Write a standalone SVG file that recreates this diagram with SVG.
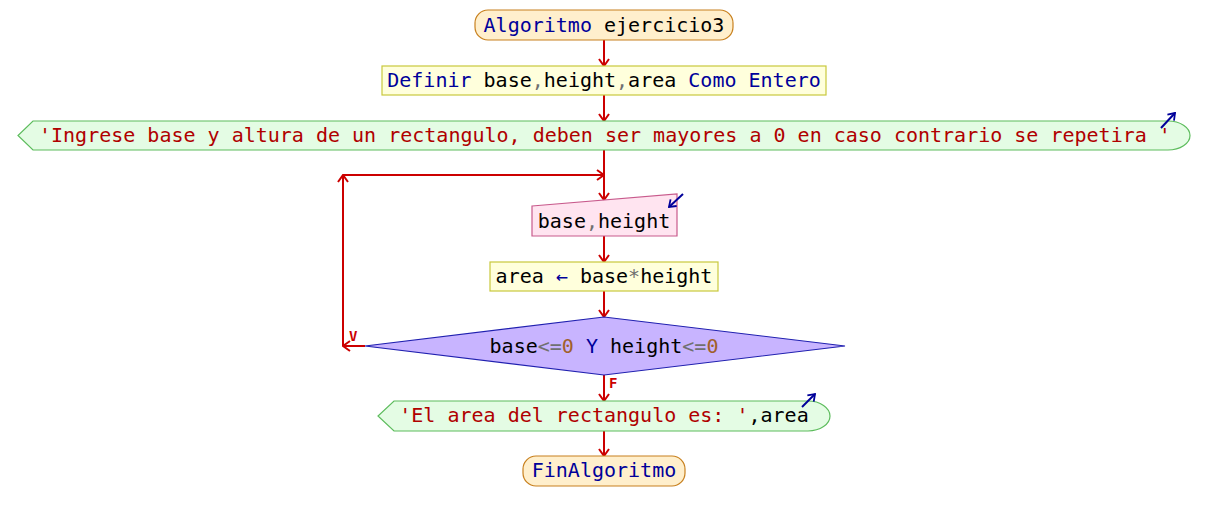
<svg xmlns="http://www.w3.org/2000/svg" width="1208" height="521" viewBox="0 0 1208 521">
<style>
text{font-family:"DejaVu Sans Mono","Liberation Mono",monospace;font-size:20px;fill:#000}
.kw{fill:#00009a}
.st{fill:#b00000}
.op{fill:#707070}
.nu{fill:#a0602a}
.term{fill:#ffefcc;stroke:#c8801e;stroke-width:1.2}
.proc{fill:#ffffdc;stroke:#c8c83c;stroke-width:1.2}
.out{fill:#e4fce4;stroke:#5cbc5c;stroke-width:1.2}
.inp{fill:#ffe4f0;stroke:#c85a8c;stroke-width:1.2}
.dec{fill:#c8b4ff;stroke:#2020b0;stroke-width:1.2}
.con line{stroke:#cc0000;stroke-width:2;marker-end:url(#ah)}
.ic{stroke:#00009a;stroke-width:2;fill:none;marker-end:url(#bh)}
.lbl{font-size:14px;fill:#cc0000;font-weight:bold}
</style>
<defs>
<marker id="ah" viewBox="0 0 10 12" refX="9" refY="6" markerWidth="10" markerHeight="12" markerUnits="userSpaceOnUse" orient="auto">
<path d="M2,1 L9,6 L2,11" fill="none" stroke="#cc0000" stroke-width="2"/>
</marker>
<marker id="bh" viewBox="0 0 10 12" refX="9" refY="6" markerWidth="9" markerHeight="11" markerUnits="userSpaceOnUse" orient="auto">
<path d="M2,1 L9,6 L2,11" fill="none" stroke="#00009a" stroke-width="2"/>
</marker>
</defs>
<g id="connectors" class="con">
<line x1="604" y1="40" x2="604" y2="66"/>
<line x1="604" y1="95" x2="604" y2="121"/>
<line x1="604" y1="150" x2="604" y2="200"/>
<line x1="604" y1="236" x2="604" y2="262"/>
<line x1="604" y1="291" x2="604" y2="317"/>
<line x1="604" y1="375" x2="604" y2="401"/>
<line x1="604" y1="431" x2="604" y2="456"/>
<line x1="365" y1="346" x2="343" y2="346"/>
<line x1="343" y1="346" x2="343" y2="175"/>
<line x1="343" y1="175" x2="604" y2="175"/>
<text class="lbl" x="349" y="341">V</text>
<text class="lbl" x="609" y="388">F</text>
</g>
<g id="start">
<rect class="term" x="475" y="10" width="258" height="30" rx="13" ry="13"/>
<text x="604" y="32" text-anchor="middle"><tspan class="kw">Algoritmo</tspan> ejercicio3</text>
</g>
<g id="definir">
<rect class="proc" x="382" y="66" width="444" height="29"/>
<text x="604" y="87" text-anchor="middle"><tspan class="kw">Definir</tspan> base<tspan class="op">,</tspan>height<tspan class="op">,</tspan>area <tspan class="kw">Como Entero</tspan></text>
</g>
<g id="escribir1">
<path class="out" d="M33,121 L1168,121 A22,14.5 0 0 1 1168,150 L33,150 L18,135.5 Z"/>
<text x="39" y="142"><tspan class="st">'Ingrese base y altura de un rectangulo, deben ser mayores a 0 en caso contrario se repetira '</tspan></text>
<line class="ic" x1="1161" y1="128" x2="1175" y2="113"/>
</g>
<g id="leer">
<path class="inp" d="M532,206 L677,194 L677,236 L532,236 Z"/>
<text x="604" y="228" text-anchor="middle">base<tspan class="op">,</tspan>height</text>
<line class="ic" x1="683" y1="194" x2="669" y2="207"/>
</g>
<g id="asignar">
<rect class="proc" x="490" y="262" width="228" height="29"/>
<text x="604" y="283" text-anchor="middle">area <tspan class="kw">←</tspan> base<tspan class="op">*</tspan>height</text>
</g>
<g id="condicion">
<path class="dec" d="M604,317 L845,346 L604,375 L365,346 Z"/>
<text x="604" y="353" text-anchor="middle">base<tspan class="op">&lt;=</tspan><tspan class="nu">0</tspan> <tspan class="kw">Y</tspan> height<tspan class="op">&lt;=</tspan><tspan class="nu">0</tspan></text>
</g>
<g id="escribir2">
<path class="out" d="M394,401 L808,401 A22,15 0 0 1 808,431 L394,431 L378,416 Z"/>
<text x="604" y="422" text-anchor="middle"><tspan class="st">'El area del rectangulo es: '</tspan>,area</text>
<line class="ic" x1="802" y1="407" x2="815" y2="394"/>
</g>
<g id="fin">
<rect class="term" x="523" y="456" width="162" height="30" rx="13" ry="13"/>
<text x="604" y="477" text-anchor="middle" class="kw">FinAlgoritmo</text>
</g>
</svg>
